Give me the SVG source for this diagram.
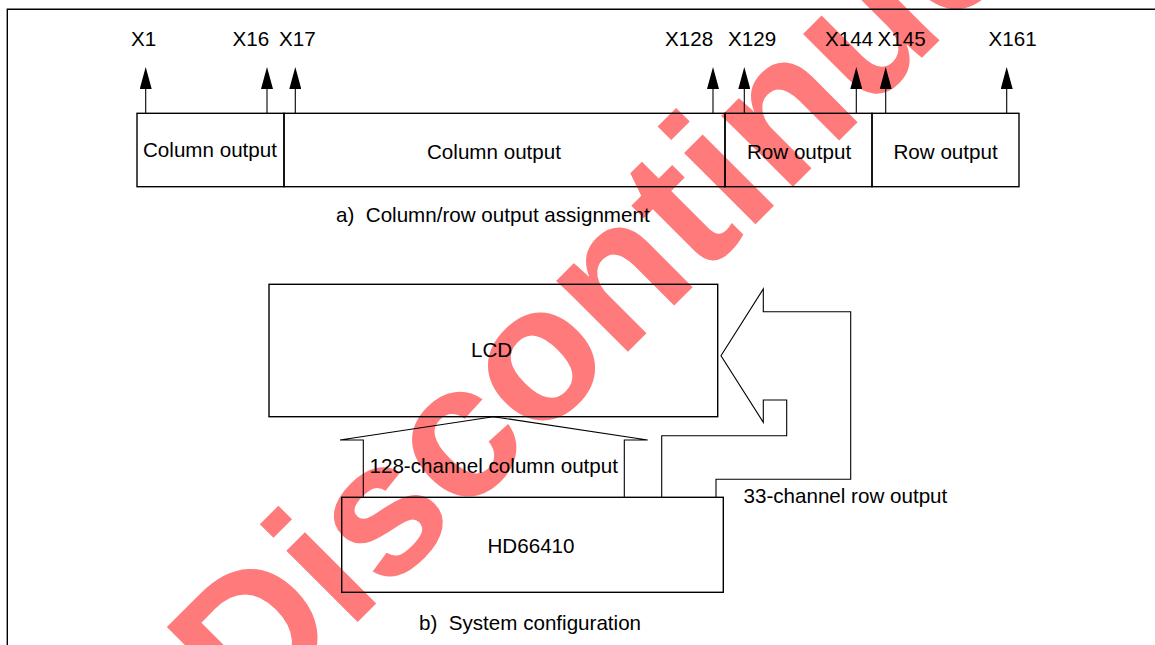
<svg xmlns="http://www.w3.org/2000/svg" width="1155" height="645" viewBox="0 0 1155 645">
<style>
text{font-family:"Liberation Sans",Arial,sans-serif;font-size:20.6px;fill:#000}
.box{fill:none;stroke:#000;stroke-width:1.4}
.frame{fill:none;stroke:#000;stroke-width:1.4}
.pin{stroke:#000;stroke-width:1.1;marker-end:url(#ah)}
.conn{fill:none;stroke:#000;stroke-width:1.1}
.wm{font-family:"Liberation Sans",Arial,sans-serif;font-weight:bold;font-size:191px;fill:#ff7a7a}
</style>
<defs>
<marker id="ah" viewBox="0 0 22 12" refX="0" refY="6" markerWidth="22" markerHeight="12" markerUnits="userSpaceOnUse" orient="auto">
<path d="M0,0 L22,6 L0,12 z" fill="#000"/>
</marker>
</defs>
<rect width="1155" height="645" fill="#fff"/>
<text class="wm" transform="translate(250.7,729) rotate(-45)">Discontinued</text>
<path class="frame" d="M7.3,645 V9.3 H1155"/>
<g id="col-output-1"><rect class="box" x="137" y="113.3" width="147" height="73.4"/><text x="143" y="156.5">Column output</text></g>
<g id="col-output-2"><rect class="box" x="284" y="113.3" width="441" height="73.4"/><text x="427" y="159">Column output</text></g>
<g id="row-output-1"><rect class="box" x="725" y="113.3" width="147" height="73.4"/><text x="747" y="159">Row output</text></g>
<g id="row-output-2"><rect class="box" x="872" y="113.3" width="147" height="73.4"/><text x="893.5" y="159">Row output</text></g>
<g id="pin-labels">
<text x="131" y="45.5">X1</text>
<text x="232.5" y="45.5">X16</text>
<text x="279" y="45.5">X17</text>
<text x="665" y="45.5">X128</text>
<text x="728" y="45.5">X129</text>
<text x="825" y="45.5">X144</text>
<text x="877.5" y="45.5">X145</text>
<text x="988.5" y="45.5">X161</text>
</g>
<text id="caption-a" x="336" y="221.5" xml:space="preserve">a)  Column/row output assignment</text>
<g id="lcd"><rect class="box" x="269" y="284.3" width="448.7" height="132.4"/><text x="471" y="356.5">LCD</text></g>
<g id="hd66410"><rect class="box" x="341.7" y="497.3" width="381.6" height="95"/><text x="531" y="553" text-anchor="middle">HD66410</text></g>
<g id="connectors">
<line class="pin" x1="145.7" y1="113.3" x2="145.7" y2="89"/>
<line class="pin" x1="267" y1="113.3" x2="267" y2="89"/>
<line class="pin" x1="295.3" y1="113.3" x2="295.3" y2="89"/>
<line class="pin" x1="713" y1="113.3" x2="713" y2="89"/>
<line class="pin" x1="744.3" y1="113.3" x2="744.3" y2="89"/>
<line class="pin" x1="856.3" y1="113.3" x2="856.3" y2="89"/>
<line class="pin" x1="885.7" y1="113.3" x2="885.7" y2="89"/>
<line class="pin" x1="1006.7" y1="113.3" x2="1006.7" y2="89"/>
<polyline class="conn" points="363.3,497.3 363.3,440 340,440 493.3,416.7 647.7,440 624.3,440 624.3,497.3"/>
<polyline class="conn" points="661.7,497.3 661.7,435.7 786.7,435.7 786.7,400 763.3,400 763.3,422.3 721,355.7 763.3,289 763.3,311.7 850.7,311.7 850.7,479.3 716,479.3 716,497.3"/>
<text x="369.5" y="472.5">128-channel column output</text>
<text x="743.5" y="503.3">33-channel row output</text>
</g>
<text id="caption-b" x="419" y="630" xml:space="preserve">b)  System configuration</text>
</svg>
